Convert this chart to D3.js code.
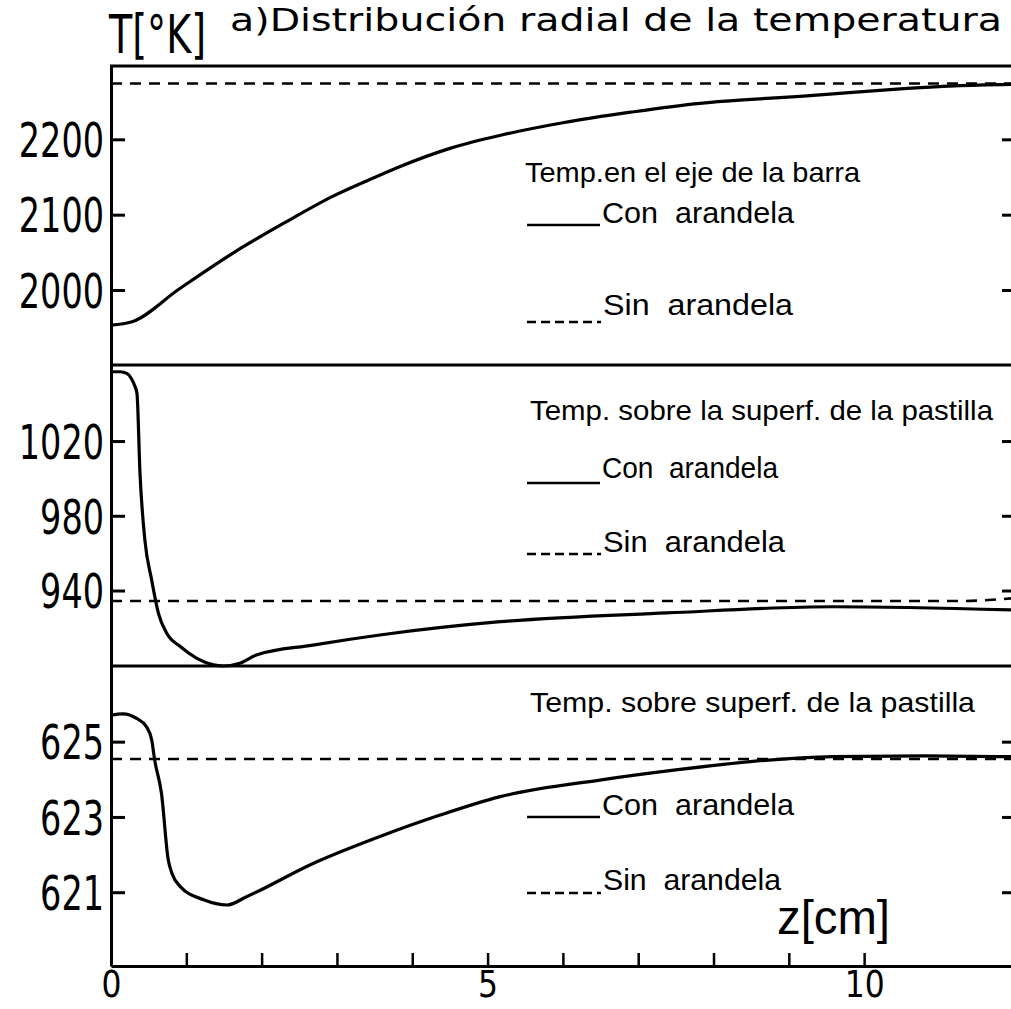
<!DOCTYPE html>
<html><head><meta charset="utf-8">
<script src="https://cdn.jsdelivr.net/npm/d3@7"></script>
<style>html,body{margin:0;padding:0;background:#fff;overflow:hidden}</style>
</head><body>
<svg id="chart" width="1011" height="1009"></svg>
<script>
// ---------------- data ----------------
const titleText = "a)Distribución radial de la temperatura";
const yTitleText = "T[°K]";
const xTitleText = "z[cm]";
const zTickValues = [0, 1, 2, 3, 4, 5, 6, 7, 8, 9, 10];
const zTickLabels = [0, 5, 10];

// Panel 1: temperature on the bar axis
const p1Ticks = [2000, 2100, 2200];
const p1ConZ = [0, 0.28, 0.9, 1.62, 2.3, 2.95, 3.4, 3.84, 4.5, 5.2, 6.0, 6.9, 7.82, 8.5, 9.15, 9.8, 10.48, 11.2, 11.95];
const p1ConT = [1953.5, 1958, 2001, 2049, 2089, 2124.6, 2145, 2164, 2188, 2206, 2222, 2236, 2247.8, 2253, 2257, 2262, 2267, 2271, 2273];
const p1SinZ = [0, 11.95];
const p1SinT = [2274, 2274];

// Panel 2: temperature on the pellet surface
const p2Ticks = [940, 980, 1020];
const p2ConZ = [0, 0.12, 0.21, 0.27, 0.32, 0.345, 0.385, 0.45, 0.54, 0.63, 0.74, 0.92, 1.14, 1.36, 1.49, 1.71, 1.93, 2.68, 3.57, 5.17, 7.38, 9.59, 11.95];
const p2ConT = [1057.1, 1057.1, 1056.2, 1053.5, 1049, 1045.5, 1002.7, 967, 945.6, 927.8, 917.1, 910, 903.7, 900.2, 899.6, 901.1, 905.5, 910.8, 916.2, 923.3, 928, 931.3, 929.6];
const p2SinZ = [0, 11.3, 11.95];
const p2SinT = [934.4, 934.4, 935.8];

// Panel 3: temperature on pellet surface
const p3Ticks = [621, 623, 625];
const p3ConZ = [0, 0.16, 0.34, 0.47, 0.54, 0.58, 0.67, 0.76, 0.81, 0.92, 1.23, 1.54, 1.80, 2.69, 3.57, 4.37, 5.17, 6.49, 7.5, 8.49, 9.59, 10.8, 11.95];
const p3ConT = [625.71, 625.74, 625.62, 625.40, 625.05, 624.51, 623.63, 621.86, 621.50, 621.15, 620.80, 620.66, 620.88, 621.77, 622.48, 623.05, 623.54, 623.98, 624.25, 624.47, 624.60, 624.62, 624.60];
const p3SinZ = [0, 11.95];
const p3SinT = [624.54, 624.54];

const legendHeads = ["Temp.en el eje de la barra", "Temp. sobre la superf. de la pastilla", "Temp. sobre superf. de la pastilla"];
const legendCon = "Con  arandela";
const legendSin = "Sin  arandela";

// ---------------- layout ----------------
const W = 1011, H = 1009;
const left = 111, right = 1011, topY = 66, bottomY = 966;
const numFont = "'DejaVu Sans', sans-serif";
const txtFont = "'Liberation Sans', Arial, sans-serif";

const svg = d3.select("#chart");
svg.append("rect").attr("width", W).attr("height", H).attr("fill", "#fff");

const x = d3.scaleLinear().domain([0, 11.95]).range([left, right]);

const panels = [
  { top: 66, bottom: 365, domain: [1900.5, 2297.3], ticks: p1Ticks, conZ: p1ConZ, conT: p1ConT, sinZ: p1SinZ, sinT: p1SinT,
    head: legendHeads[0], headPos: [525, 182, 335], conY: 225, conBase: 223, conLen: 192, sinY: 322, sinBase: 315, sinLen: 190 },
  { top: 365, bottom: 666, domain: [899.6, 1060.7], ticks: p2Ticks, conZ: p2ConZ, conT: p2ConT, sinZ: p2SinZ, sinT: p2SinT,
    head: legendHeads[1], headPos: [530, 420, 463], conY: 483, conBase: 478, conLen: 176, sinY: 554, sinBase: 552, sinLen: 182 },
  { top: 666, bottom: 966, domain: [619.04, 627.01], ticks: p3Ticks, conZ: p3ConZ, conT: p3ConT, sinZ: p3SinZ, sinT: p3SinT,
    head: legendHeads[2], headPos: [530, 712, 445], conY: 817, conBase: 815, conLen: 192, sinY: 893, sinBase: 890, sinLen: 178 }
];

const dash = "11,8";

panels.forEach(p => {
  const y = d3.scaleLinear().domain(p.domain).range([p.bottom, p.top]);

  // left axis with inward ticks
  const ax = svg.append("g").attr("transform", `translate(${left},0)`)
    .call(d3.axisLeft(y).tickValues(p.ticks).tickSizeInner(-14).tickSizeOuter(0).tickPadding(7).tickFormat(d3.format("d")));
  ax.select(".domain").attr("stroke-width", 3);
  ax.selectAll(".tick line").attr("stroke-width", 3);
  ax.selectAll(".tick text").attr("font-family", numFont).attr("font-size", 48).attr("fill", "#000")
    .attr("dy", "0.36em")
    .attr("textLength", d => String(d).length * 21.3).attr("lengthAdjust", "spacingAndGlyphs");

  // right-edge ticks
  const axr = svg.append("g").attr("transform", `translate(${right},0)`)
    .call(d3.axisLeft(y).tickValues(p.ticks).tickSizeInner(9).tickSizeOuter(0).tickFormat(""));
  axr.select(".domain").remove();
  axr.selectAll(".tick line").attr("stroke-width", 3);

  // panel separator line (top of panel)
  svg.append("line").attr("x1", left - 1).attr("x2", right).attr("y1", p.top).attr("y2", p.top)
    .attr("stroke", "#000").attr("stroke-width", 3);

  const line = d3.line().x(d => x(d[0])).y(d => y(d[1])).curve(d3.curveMonotoneX);
  const sinData = p.sinZ.map((z, i) => [z, p.sinT[i]]);
  const conData = p.conZ.map((z, i) => [z, p.conT[i]]);

  svg.append("path").datum(sinData).attr("d", line).attr("fill", "none")
    .attr("stroke", "#000").attr("stroke-width", 2.6).attr("stroke-dasharray", dash);
  svg.append("path").datum(conData).attr("d", line).attr("fill", "none")
    .attr("stroke", "#000").attr("stroke-width", 3.2).attr("stroke-linejoin", "round");

  // legend
  svg.append("text").attr("x", p.headPos[0]).attr("y", p.headPos[1])
    .attr("font-family", txtFont).attr("font-size", 28).attr("textLength", p.headPos[2])
    .attr("lengthAdjust", "spacingAndGlyphs").text(p.head);
  svg.append("line").attr("x1", 527).attr("x2", 600).attr("y1", p.conY).attr("y2", p.conY)
    .attr("stroke", "#000").attr("stroke-width", 2.5);
  svg.append("text").attr("x", 602).attr("y", p.conBase).attr("font-family", txtFont).attr("font-size", 30)
    .attr("textLength", p.conLen).attr("lengthAdjust", "spacingAndGlyphs")
    .style("white-space", "pre").text(legendCon);
  svg.append("line").attr("x1", 527).attr("x2", 601).attr("y1", p.sinY).attr("y2", p.sinY)
    .attr("stroke", "#000").attr("stroke-width", 2.5).attr("stroke-dasharray", "9,5");
  svg.append("text").attr("x", 603).attr("y", p.sinBase).attr("font-family", txtFont).attr("font-size", 30)
    .attr("textLength", p.sinLen).attr("lengthAdjust", "spacingAndGlyphs")
    .style("white-space", "pre").text(legendSin);
});

// bottom axis
const bx = svg.append("g").attr("transform", `translate(0,${bottomY})`)
  .call(d3.axisBottom(x).tickValues(zTickValues).tickSizeInner(-13).tickSizeOuter(0).tickPadding(4)
    .tickFormat(d => zTickLabels.includes(d) ? String(d) : ""));
bx.select(".domain").attr("stroke-width", 3);
bx.selectAll(".tick line").attr("stroke-width", 2.5);
bx.selectAll(".tick text").attr("font-family", numFont).attr("font-size", 38).attr("fill", "#000")
  .filter(d => zTickLabels.includes(d))
  .attr("textLength", d => String(d).length * 20).attr("lengthAdjust", "spacingAndGlyphs");

// axis titles
svg.append("text").attr("x", 109).attr("y", 53).attr("font-family", numFont).attr("font-size", 53)
  .attr("textLength", 97).attr("lengthAdjust", "spacingAndGlyphs").text(yTitleText);
svg.append("text").attr("x", 777).attr("y", 934).attr("font-family", txtFont).attr("font-size", 48)
  .attr("textLength", 113).attr("lengthAdjust", "spacingAndGlyphs").text(xTitleText);

// chart title (kept fully inside the picture, to the right of the y title)
svg.append("text").attr("x", 230).attr("y", 31).attr("font-family", numFont).attr("font-size", 32)
  .attr("textLength", 772).attr("lengthAdjust", "spacingAndGlyphs").text(titleText);
</script>
</body></html>
